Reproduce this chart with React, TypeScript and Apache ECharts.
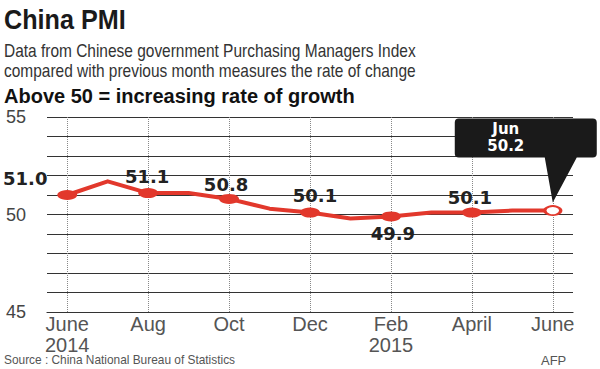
import React, { useEffect, useRef } from 'react';
import * as echarts from 'echarts';

const months = ['2014-06', '2014-07', '2014-08', '2014-09', '2014-10', '2014-11', '2014-12', '2015-01', '2015-02', '2015-03', '2015-04', '2015-05', '2015-06'];
const tickLabels = ['June\n2014', '', 'Aug', '', 'Oct', '', 'Dec', '', 'Feb\n2015', '', 'April', '', 'June'];
const pmi = [51.0, 51.7, 51.1, 51.1, 50.8, 50.3, 50.1, 49.8, 49.9, 50.1, 50.1, 50.2, 50.2];
const markerIdx = [0, 2, 4, 6, 8, 10];
const labelledIdx = [0, 2, 4, 6, 8, 10];
const gridMonthIdx = [0, 2, 4, 6, 8, 10, 12];
const yTickLabels = [45, 50, 55];
const calloutMonth = 'Jun';
const calloutIdx = 12;

const titleText = 'China PMI';
const subLine1 = 'Data from Chinese government Purchasing Managers Index';
const subLine2 = 'compared with previous month measures the rate of change';
const subLine3 = 'Above 50 = increasing rate of growth';
const sourceText = 'Source : China National Bureau of Statistics';
const creditText = 'AFP';

const RED = '#e2382c';
const SANS = '"Liberation Sans", Arial, sans-serif';
const BOLDNUM = '"DejaVu Sans", "Liberation Sans", sans-serif';

const labelStyle: Record<number, { position: string; offset: number[] }> = {
  0: { position: 'top', offset: [-42, 2] },
  2: { position: 'top', offset: [-1, 2] },
  4: { position: 'top', offset: [-3, 5] },
  6: { position: 'top', offset: [5, 2] },
  8: { position: 'bottom', offset: [2, -2] },
  10: { position: 'top', offset: [-2, 4] },
};

const calloutPath =
  'path://M4,0 L138,0 Q142,0 142,4 L142,35 Q142,39 138,39 L122,39 L98,84 L90,39 L4,39 Q0,39 0,35 L0,4 Q0,0 4,0 Z';

export default function App() {
  const ref = useRef<HTMLDivElement>(null);
  useEffect(() => {
    document.body.style.margin = '0';
    if (!ref.current) return;
    const chart = echarts.init(ref.current, undefined, { renderer: 'svg' });

    const data = pmi.map((v, i) => {
      const isLast = i === calloutIdx;
      const hasMarker = markerIdx.includes(i) || isLast;
      const lab = labelledIdx.includes(i) ? labelStyle[i] : null;
      return {
        value: v,
        symbol: hasMarker ? 'circle' : 'none',
        symbolSize: isLast ? [16, 9] : [20, 10],
        itemStyle: isLast
          ? { color: '#ffffff', borderColor: RED, borderWidth: 2.5 }
          : { color: RED },
        label: lab
          ? {
              show: true,
              position: lab.position,
              offset: lab.offset,
              formatter: v.toFixed(1),
              fontFamily: BOLDNUM,
              fontWeight: 'bold',
              fontSize: 18,
              color: '#222',
            }
          : { show: false },
      };
    });

    chart.setOption({
      animation: false,
      backgroundColor: '#ffffff',
      grid: { left: 47, right: 27, top: 117, bottom: 57 },
      xAxis: {
        type: 'category',
        data: months,
        boundaryGap: true,
        axisTick: { show: false },
        axisLine: { show: true, lineStyle: { color: '#333', width: 1.2 } },
        splitLine: { show: false },
        axisLabel: {
          interval: 0,
          formatter: (_v: string, i: number) => tickLabels[i],
          fontFamily: SANS,
          fontSize: 20,
          lineHeight: 21,
          color: '#555',
          margin: 1,
        },
      },
      yAxis: {
        type: 'value',
        min: 45,
        max: 55,
        interval: 1,
        axisLine: { show: false },
        axisTick: { show: false },
        splitLine: { show: true, lineStyle: { color: '#333', width: 1.2 } },
        axisLabel: {
          formatter: (v: number) => (yTickLabels.includes(v) ? String(v) : ''),
          align: 'left',
          margin: 41,
          fontFamily: SANS,
          fontSize: 18,
          color: '#444',
        },
      },
      series: [
        {
          type: 'line',
          data,
          smooth: false,
          lineStyle: { color: RED, width: 4, join: 'round', cap: 'round' },
          z: 3,
          markLine: {
            silent: true,
            symbol: ['none', 'none'],
            label: { show: false },
            lineStyle: { color: '#888', type: 'dotted', width: 1 },
            data: gridMonthIdx.map((i) => ({ xAxis: months[i] })),
            z: 1,
          },
          markPoint: {
            silent: true,
            symbol: calloutPath,
            symbolSize: [142, 84],
            symbolOffset: [-27, -50],
            symbolKeepAspect: false,
            itemStyle: { color: '#1a1a1a' },
            label: {
              show: true,
              position: 'inside',
              offset: [-20, -23],
              formatter: `${calloutMonth}\n${pmi[calloutIdx].toFixed(1)}`,
              fontFamily: BOLDNUM,
              fontWeight: 'bold',
              fontSize: 15,
              lineHeight: 17,
              color: '#ffffff',
              align: 'center',
            },
            data: [{ coord: [months[calloutIdx], pmi[calloutIdx]] }],
            z: 5,
          },
        },
      ],
      graphic: [
        {
          type: 'text',
          x: 4,
          y: 20,
          scaleX: 0.9,
          style: { text: titleText, font: `bold 28px ${SANS}`, fill: '#1a1a1a', verticalAlign: 'middle' },
        },
        {
          type: 'text',
          x: 4,
          y: 51,
          scaleX: 0.86,
          style: { text: subLine1, font: `18px ${SANS}`, fill: '#333', verticalAlign: 'middle' },
        },
        {
          type: 'text',
          x: 4,
          y: 71,
          scaleX: 0.86,
          style: { text: subLine2, font: `18px ${SANS}`, fill: '#333', verticalAlign: 'middle' },
        },
        {
          type: 'text',
          x: 4,
          y: 96,
          style: { text: subLine3, font: `bold 20px ${SANS}`, fill: '#111', verticalAlign: 'middle' },
        },
        {
          type: 'text',
          x: 4,
          y: 360,
          scaleX: 0.915,
          style: { text: sourceText, font: `13px ${SANS}`, fill: '#555', verticalAlign: 'middle' },
        },
        {
          type: 'text',
          x: 541,
          y: 360,
          style: { text: creditText, font: `13px ${SANS}`, fill: '#555', verticalAlign: 'middle' },
        },
      ],
    });
    return () => chart.dispose();
  }, []);
  return <div ref={ref} style={{ width: 600, height: 369 }} />;
}
